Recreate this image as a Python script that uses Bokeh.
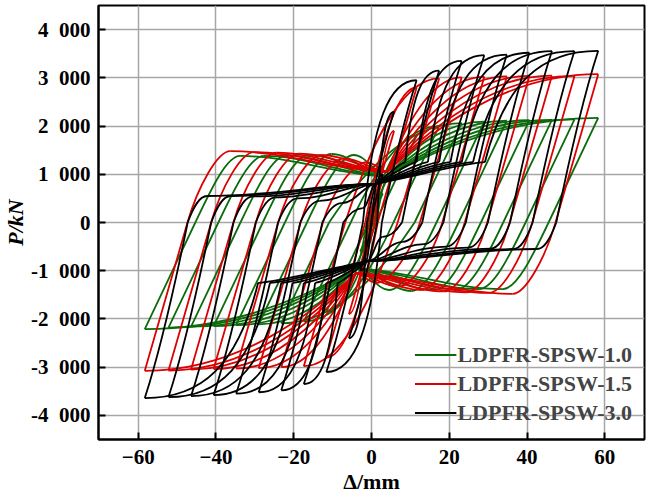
from bokeh.plotting import figure
from bokeh.models import FixedTicker
from bokeh.embed import file_html
from bokeh.resources import INLINE

# ---------------- data ----------------
# cycle amplitudes (mm)
AMP = [2.9, 5.8, 11.6, 17.4, 23.2, 29.0, 34.8, 40.6, 46.4, 52.2, 58.3]

# LDPFR-SPSW-1.0 (green): peak forces (kN) and pinching-plateau force
G_POS = [600, 1200, 1800, 2000, 2060, 2090, 2110, 2120, 2130, 2140, 2170]
G_NEG = [-600, -1200, -1850, -2050, -2090, -2110, -2130, -2150, -2160, -2180, -2210]
G_PLAT = [0, 0, 0, 0, 1300, 1400, 1420, 1400, 1390, 1380, 1380]

# LDPFR-SPSW-1.5 (red)
R_POS = [900, 1900, 2800, 2990, 3010, 3020, 3030, 3040, 3045, 3040, 3075]
R_NEG = [-900, -1900, -2800, -2980, -3000, -3020, -3030, -3040, -3050, -3070, -3075]
R_PLAT = [0, 0, 0, 0, 1250, 1330, 1400, 1430, 1450, 1460, 1480]

# LDPFR-SPSW-3.0 (black)
B_POS = [1000, 2300, 2950, 3150, 3350, 3470, 3480, 3520, 3555, 3555, 3560]
B_NEG = [-1000, -2400, -3100, -3350, -3480, -3520, -3550, -3580, -3600, -3620, -3640]
B_PLAT = [0, 0, 0, 300, 400, 450, 500, 520, 540, 550, 550]

# read-off loop features per specimen: unloading stiffness (kN/mm),
# plateau-peak offset from reversal (mm), centre crossing (mm, kN)
G_SHAPE = dict(k=170.0, ub=24.5, xc=4.0, fc=950.0)
R_SHAPE = dict(k=280.0, ub=22.0, xc=4.0, fc=1050.0)
B_SHAPE = dict(k=330.0, xc=1.0, fc=800.0, fend=1250.0, frac=0.5)

X_TICKS = [-60, -40, -20, 0, 20, 40, 60]
X_LABELS = ["\u221260", "\u221240", "\u221220", "0", "20", "40", "60"]
Y_TICKS = [-4000, -3000, -2000, -1000, 0, 1000, 2000, 3000, 4000]
Y_LABELS = ["-4\u2002000", "-3\u2002000", "-2\u2002000", "-1\u2002000", "0",
            "1\u2002000", "2\u2002000", "3\u2002000", "4\u2002000"]

NAMES = ["LDPFR-SPSW-1.0", "LDPFR-SPSW-1.5", "LDPFR-SPSW-3.0"]
COLORS = ["#0b6b0b", "#dc0000", "#000000"]


# ---------------- loop path construction (cubic Bezier segments) ----------------
def lerp(p, q, t):
    return (p[0] + (q[0] - p[0]) * t, p[1] + (q[1] - p[1]) * t)


def straight(p, q):
    return (p, lerp(p, q, 1 / 3), lerp(p, q, 2 / 3), q)


def half_rg(A, fs, fe, fb, sh):
    k, ub, xc, fc = sh["k"], sh["ub"], sh["xc"], sh["fc"]
    p0 = (-A, fs)
    z = (-A + (-fs) / k, 0.0)
    segs = [straight(p0, z)]
    bx = -A + ub
    start = z
    if fb > 0 and bx < xc - 4:
        b = (bx, fb)
        segs.append((z, (z[0] + 0.5 * fb / k, 0.5 * fb), (b[0] - 0.3 * (b[0] - z[0]), fb), b))
        c = (xc, fc)
        segs.append((b, (b[0] + 0.35 * (c[0] - b[0]), fb),
                     (b[0] + 0.65 * (c[0] - b[0]), fc + 0.1 * (fb - fc)), c))
        start = c
    p = (A, fe)
    L = A - start[0]
    dF = fe - start[1]
    segs.append((start, (start[0] + 0.2 * L, start[1] + 0.4 * dF), (start[0] + 0.55 * L, fe), p))
    return segs


def half_black(A, fs, fe, fb, sh):
    k, xc, fc, fend, frac = sh["k"], sh["xc"], sh["fc"], sh["fend"], sh["frac"]
    p0 = (-A, fs)
    u0 = (-fs) / k
    z = (-A + u0, 0.0)
    segs = [(p0, (p0[0] + 0.4 * u0, fs * 0.7), (p0[0] + 0.75 * u0, fs * 0.3), z)]
    b = (z[0] + 5.0, fb)
    start = z
    if fb > 0 and b[0] < xc - 3:
        segs.append((z, (z[0] + 1.5, 0.6 * fb), (b[0] - 2.0, fb), b))
        c = (xc, fc)
        segs.append((b, (b[0] + 0.4 * (c[0] - b[0]), fb), (b[0] + 0.7 * (c[0] - b[0]), fc), c))
        e = (frac * A, fend)
        segs.append((c, lerp(c, e, 0.4), (e[0] - 0.15 * (e[0] - c[0]), fend), e))
        start = e
    p = (A, fe)
    d = A - start[0]
    dF = fe - start[1]
    segs.append((start, (start[0] + 0.18 * d, start[1] + 0.72 * dF),
                 (start[0] + 0.5 * d, fe), p))
    return segs


def loops(pos, neg, plat, half, sh):
    cols = dict(x0=[], y0=[], cx0=[], cy0=[], cx1=[], cy1=[], x1=[], y1=[])
    for A, fp, fn, fb in zip(AMP, pos, neg, plat):
        up = half(A, fn, fp, fb, sh)
        down = [tuple((-pt[0], -pt[1]) for pt in s) for s in half(A, -fp, -fn, fb, sh)]
        for s in up + down:
            (a, c0, c1, b) = s
            cols["x0"].append(a[0]); cols["y0"].append(a[1])
            cols["cx0"].append(c0[0]); cols["cy0"].append(c0[1])
            cols["cx1"].append(c1[0]); cols["cy1"].append(c1[1])
            cols["x1"].append(b[0]); cols["y1"].append(b[1])
    return cols


# ---------------- figure ----------------
FONT = "Liberation Serif"

p = figure(width=652, height=501, x_range=(-70.2, 70.2), y_range=(-4500, 4500),
           output_backend="svg", toolbar_location=None,
           min_border_left=98, min_border_right=8, min_border_top=5, min_border_bottom=62)
p.background_fill_color = "white"
p.border_fill_color = "white"
p.outline_line_color = "black"
p.outline_line_width = 2

series = [
    (loops(G_POS, G_NEG, G_PLAT, half_rg, G_SHAPE), COLORS[0], NAMES[0]),
    (loops(R_POS, R_NEG, R_PLAT, half_rg, R_SHAPE), COLORS[1], NAMES[1]),
    (loops(B_POS, B_NEG, B_PLAT, half_black, B_SHAPE), COLORS[2], NAMES[2]),
]
for cols, col, name in series:
    p.bezier(source=cols, x0="x0", y0="y0", x1="x1", y1="y1",
             cx0="cx0", cy0="cy0", cx1="cx1", cy1="cy1",
             line_color=col, line_width=1.8, legend_label=name)

for ax, ticks, labels in ((p.xaxis, X_TICKS, X_LABELS), (p.yaxis, Y_TICKS, Y_LABELS)):
    ax.ticker = FixedTicker(ticks=ticks)
    ax.major_label_overrides = {t: l for t, l in zip(ticks, labels)}
    ax.axis_line_width = 2
    ax.axis_line_color = "black"
    ax.major_tick_in = 7
    ax.major_tick_out = 0
    ax.major_tick_line_width = 2
    ax.minor_tick_in = 0
    ax.minor_tick_out = 0
    ax.major_label_text_font = FONT
    ax.major_label_text_font_style = "bold"
    ax.major_label_text_font_size = "21px"
    ax.major_label_text_color = "black"
    ax.axis_label_text_font = FONT
    ax.axis_label_text_font_size = "22px"
    ax.axis_label_text_color = "black"
p.xaxis.major_label_standoff = 10
p.yaxis.major_label_standoff = 8

p.xaxis.axis_label = "\u0394/mm"
p.xaxis.axis_label_text_font_style = "bold"
p.xaxis.axis_label_standoff = 2
p.yaxis.axis_label = "P/kN"
p.yaxis.axis_label_text_font_style = "bold italic"
p.yaxis.axis_label_standoff = 0

p.xgrid.ticker = FixedTicker(ticks=X_TICKS)
p.ygrid.ticker = FixedTicker(ticks=Y_TICKS)
for g in (p.xgrid, p.ygrid):
    g.grid_line_color = "#a6a6a6"
    g.grid_line_width = 1.5

lg = p.legend[0]
lg.location = "bottom_right"
lg.background_fill_alpha = 0
lg.border_line_alpha = 0
lg.label_text_font = FONT
lg.label_text_font_style = "bold"
lg.label_text_font_size = "22px"
lg.glyph_width = 42
lg.glyph_height = 29
lg.label_height = 29
lg.spacing = 0
lg.padding = 0
lg.margin = 12
lg.label_standoff = 1

open("out.html", "w").write(file_html(p, INLINE))
